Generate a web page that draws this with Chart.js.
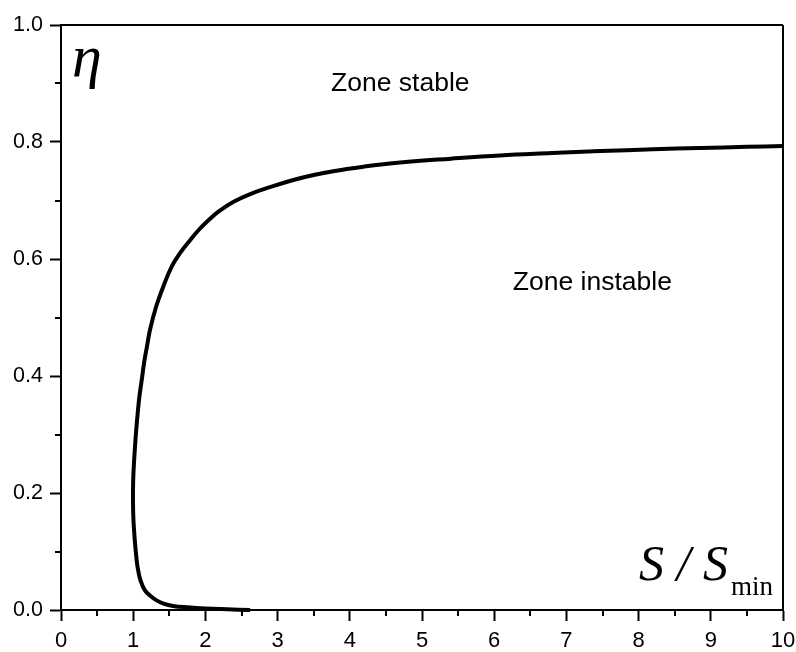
<!DOCTYPE html>
<html>
<head>
<meta charset="utf-8">
<script src="https://cdn.jsdelivr.net/npm/chart.js@4"></script>
<style>
  html, body { margin: 0; padding: 0; background: #fff; }
  #wrap { width: 796px; height: 652px; }
</style>
</head>
<body>
<div id="wrap"><canvas id="c" width="796" height="652"></canvas></div>
<script>
// Stability boundary: efficiency eta versus relative section S/Smin
const ratioS = [2.62, 2.3, 2.0, 1.75, 1.55, 1.42, 1.33, 1.24, 1.16, 1.10, 1.06, 1.04, 1.025,
  1.01, 1.0, 0.997, 1.0, 1.01, 1.025, 1.04, 1.062, 1.086, 1.118, 1.15, 1.19, 1.233, 1.316,
  1.417, 1.533, 1.648, 1.787, 1.91, 2.05, 2.18, 2.39, 2.62, 2.85, 3.31, 3.77, 4.2, 4.7,
  5.4, 6.08, 6.8, 7.47, 8.2, 8.85, 9.5, 10];
const eta = [0.0, 0.0012, 0.0025, 0.0045, 0.007, 0.011, 0.016, 0.024, 0.034, 0.051, 0.074, 0.095, 0.115,
  0.14, 0.165, 0.195, 0.222, 0.25, 0.279, 0.305, 0.336, 0.365, 0.393, 0.422, 0.45, 0.479, 0.518,
  0.553, 0.587, 0.61, 0.632, 0.65, 0.667, 0.681, 0.698, 0.711, 0.721, 0.738, 0.75, 0.758, 0.765,
  0.7715, 0.777, 0.781, 0.7845, 0.7875, 0.7898, 0.7917, 0.793];
const xTicks = [0, 1, 2, 3, 4, 5, 6, 7, 8, 9, 10];
const yTicks = [0.0, 0.2, 0.4, 0.6, 0.8, 1.0];
const zoneLabels = ['Zone stable', 'Zone instable'];
const zoneX = [4.7, 7.36];
const zoneY = [0.90, 0.559];

const points = ratioS.map((s, i) => ({ x: s, y: eta[i] }));

const SANS = '"Liberation Sans", Arial, sans-serif';
const SERIF = '"Liberation Serif", "Times New Roman", serif';

// Minor ticks, top/right frame and the text annotations
const decor = {
  id: 'decor',
  afterDraw(chart) {
    const { ctx, chartArea: a, scales: { x, y } } = chart;
    ctx.save();
    ctx.strokeStyle = '#000';
    ctx.lineWidth = 2;
    ctx.beginPath();
    ctx.moveTo(a.left, a.top); ctx.lineTo(a.right, a.top);
    ctx.moveTo(a.right, a.top); ctx.lineTo(a.right, a.bottom);
    // minor ticks halfway between labelled ones
    for (let i = 0; i < xTicks.length - 1; i++) {
      const px = Math.round(x.getPixelForValue((xTicks[i] + xTicks[i + 1]) / 2));
      ctx.moveTo(px, a.bottom); ctx.lineTo(px, a.bottom + 6);
    }
    for (let i = 0; i < yTicks.length - 1; i++) {
      const py = Math.round(y.getPixelForValue((yTicks[i] + yTicks[i + 1]) / 2));
      ctx.moveTo(a.left, py); ctx.lineTo(a.left - 6, py);
    }
    ctx.stroke();

    ctx.fillStyle = '#000';
    ctx.textAlign = 'center';
    ctx.textBaseline = 'middle';
    ctx.font = '26.5px ' + SANS;
    zoneLabels.forEach((t, i) => {
      ctx.fillText(t, x.getPixelForValue(zoneX[i]), y.getPixelForValue(zoneY[i]));
    });

    // axis symbols inside the frame
    ctx.textBaseline = 'alphabetic';
    ctx.textAlign = 'left';
    ctx.font = 'italic 60px ' + SERIF;
    ctx.fillText('\u03B7', a.left + 11, a.top + 51);

    ctx.textAlign = 'right';
    const rightEdge = a.right - 10;
    ctx.font = '27px ' + SERIF;
    const wMin = ctx.measureText('min').width;
    ctx.fillText('min', rightEdge, a.bottom - 15);
    ctx.font = 'italic 50px ' + SERIF;
    ctx.fillText('S / S', rightEdge - wMin - 3, a.bottom - 30);
    ctx.restore();
  }
};

new Chart(document.getElementById('c'), {
  type: 'scatter',
  data: {
    datasets: [{
      data: points,
      showLine: true,
      borderColor: '#000',
      borderWidth: 4,
      pointRadius: 0,
      tension: 0.4,
      fill: false,
      clip: false
    }]
  },
  options: {
    responsive: false,
    animation: false,
    layout: { padding: { top: 25, right: 13, left: 0, bottom: 0 } },
    plugins: { legend: { display: false }, tooltip: { enabled: false } },
    scales: {
      x: {
        type: 'linear', min: 0, max: 10,
        afterBuildTicks: s => { s.ticks = xTicks.map(v => ({ value: v })); },
        afterFit: s => { s.height = 42; s.paddingLeft = 0; s.paddingRight = 0; },
        ticks: { color: '#000', font: { family: SANS, size: 22 }, padding: 7,
          maxRotation: 0, autoSkip: false, callback: v => String(v) },
        grid: { drawOnChartArea: false, tickLength: 11, tickWidth: 2, tickColor: '#000' },
        border: { display: true, color: '#000', width: 2 }
      },
      y: {
        type: 'linear', min: 0, max: 1,
        afterBuildTicks: s => { s.ticks = yTicks.map(v => ({ value: v })); },
        afterFit: s => { s.width = 61; s.paddingTop = 0; s.paddingBottom = 0; },
        ticks: { color: '#000', font: { family: SANS, size: 21.5 }, padding: 7,
          autoSkip: false, callback: v => Number(v).toFixed(1) },
        grid: { drawOnChartArea: false, tickLength: 11, tickWidth: 2, tickColor: '#000' },
        border: { display: true, color: '#000', width: 2 }
      }
    }
  },
  plugins: [decor]
});
</script>
</body>
</html>
